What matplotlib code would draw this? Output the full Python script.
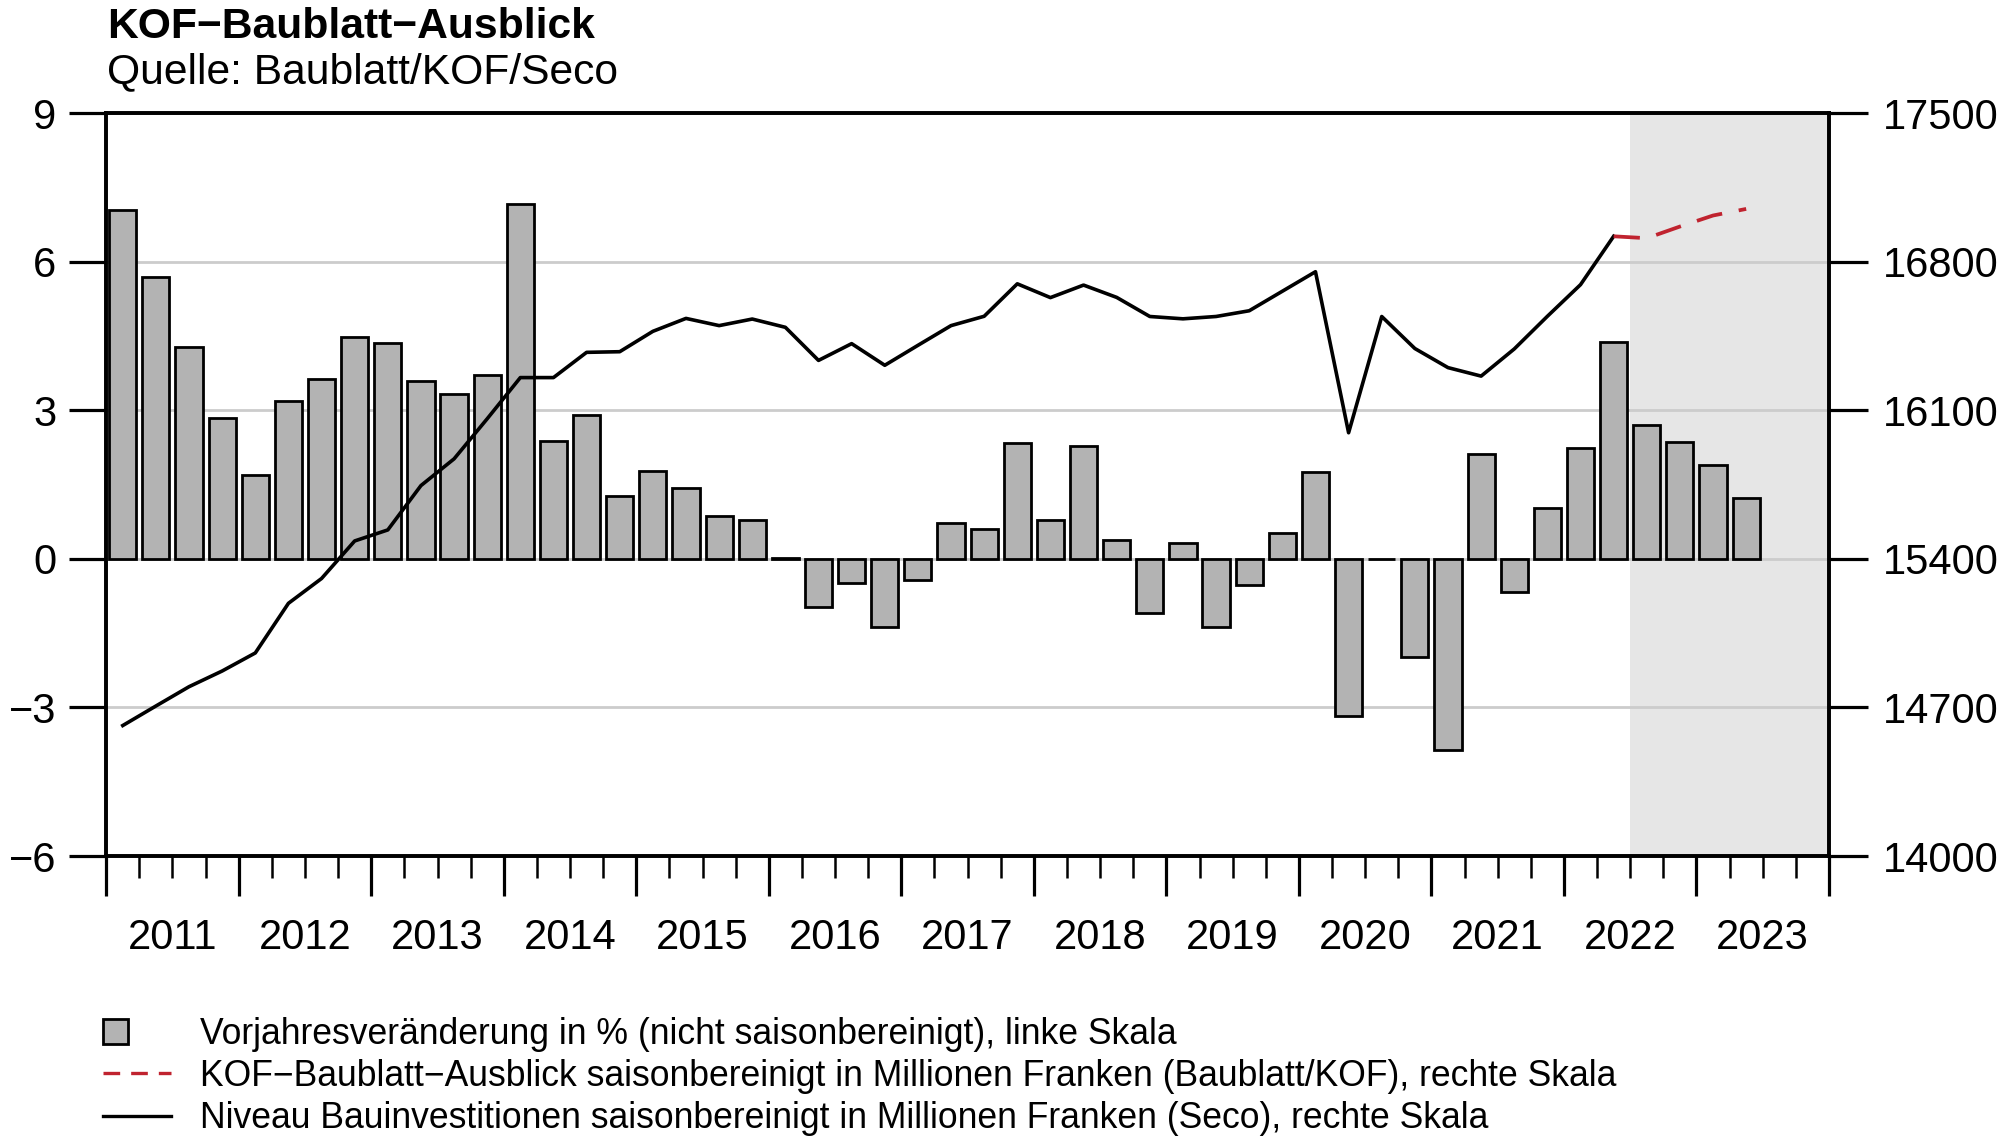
# KOF Baublatt Ausblick - bars (left scale) + investment level lines (right scale)
import numpy as np
import matplotlib.pyplot as plt
from matplotlib.patches import Rectangle
from matplotlib.lines import Line2D
from matplotlib.legend_handler import HandlerPatch

plt.rcParams['font.family'] = ['Liberation Sans', 'DejaVu Sans']

# data, quarterly 2011Q1 - 2023Q2
years = list(range(2011, 2024))
vorjahr = [7.05, 5.69, 4.29, 2.85,
           1.70, 3.19, 3.63, 4.48,
           4.37, 3.59, 3.34, 3.71,
           7.18, 2.39, 2.91, 1.27,
           1.77, 1.44, 0.86, 0.78,
           0.03, -0.96, -0.48, -1.38,
           -0.43, 0.73, 0.60, 2.35,
           0.79, 2.28, 0.39, -1.09,
           0.33, -1.37, -0.53, 0.52,
           1.75, -3.18, 0.0, -1.99,
           -3.85, 2.12, -0.66, 1.04,
           2.25, 4.38, 2.70, 2.37,
           1.89, 1.23]
# Seco level, 2011Q1 - 2022Q2
niveau = [14615, 14707, 14798, 14872, 14957, 15191, 15308, 15485,
          15537, 15746, 15872, 16061, 16255, 16255, 16374, 16377,
          16473, 16534, 16500, 16531, 16492, 16336, 16415, 16313,
          16407, 16500, 16544, 16697, 16632, 16691, 16633, 16543,
          16532, 16543, 16570, 16662, 16754, 15995, 16543, 16392,
          16302, 16262, 16390, 16544, 16693, 16921]
# KOF outlook, 2022Q2 - 2023Q2
ausblick = [16921, 16912, 16967, 17019, 17050]
prognose_start = 46  # shaded from 2022Q3

x = np.arange(len(vorjahr)) + 0.5

fig = plt.figure(figsize=(20, 11.38), dpi=100)
ax = fig.add_axes([0.0531, 0.2478, 0.8614, 0.6525])
ax2 = ax.twinx()

# shaded forecast area + grid
ax.axvspan(prognose_start, 4 * len(years), color='#E6E6E6', lw=0, zorder=0)
ax.set_axisbelow(True)
ax.yaxis.grid(True, color='#CCCCCC', lw=2)

ax.bar(x, vorjahr, width=0.82, color='#B3B3B3', edgecolor='black', lw=2.0, zorder=2)

ax2.plot(x[:len(niveau)], niveau, color='black', lw=2.6)
ax2.plot(x[len(niveau) - 1:len(niveau) - 1 + len(ausblick)], ausblick,
         color='#C0232F', lw=2.7, dashes=(7, 4.5))

# axes
ax.set_xlim(0, 4 * len(years))
ax.set_ylim(-6, 9)
ax.set_yticks([-6, -3, 0, 3, 6, 9])
ax2.set_ylim(14000, 17500)
ax2.set_yticks([14000, 14700, 15400, 16100, 16800, 17500])

ax.set_xticks(np.arange(0, 4 * len(years) + 1, 4))
ax.set_xticklabels([])
minor = [i for i in range(4 * len(years)) if i % 4]
ax.set_xticks(minor, minor=True)
ax.set_xticklabels([str(years[i // 4]) if i % 4 == 2 else '' for i in minor], minor=True)

ax.tick_params(axis='x', which='major', length=29, width=2.3)
ax.tick_params(axis='x', which='minor', length=15.5, width=1.8, pad=29, labelsize=30)
ax.tick_params(axis='y', length=27, width=2.3, pad=9, labelsize=30)
ax2.tick_params(axis='y', length=28, width=2.3, pad=11, labelsize=30)

for a in (ax, ax2):
    for s in a.spines.values():
        s.set_linewidth(2.6)

# titles
fig.text(0.0535, 0.9666, 'KOF\u2212Baublatt\u2212Ausblick', fontsize=30.7,
         fontweight='bold', va='baseline')
fig.text(0.0535, 0.9270, 'Quelle: Baublatt/KOF/Seco', fontsize=30.7, va='baseline')

# legend
def square(legend, orig_handle, xdescent, ydescent, width, height, fontsize):
    return Rectangle((-xdescent, -ydescent), height, height)

h_bar = Rectangle((0, 0), 1, 1, facecolor='#B3B3B3', edgecolor='black', lw=2.0)
h_red = Line2D([], [], color='#C0232F', lw=2.4, dashes=(5, 3.3))
h_blk = Line2D([], [], color='black', lw=2.4)
fig.legend([h_bar, h_red, h_blk],
           ['Vorjahresveränderung in % (nicht saisonbereinigt), linke Skala',
            'KOF\u2212Baublatt\u2212Ausblick saisonbereinigt in Millionen Franken (Baublatt/KOF), rechte Skala',
            'Niveau Bauinvestitionen saisonbereinigt in Millionen Franken (Seco), rechte Skala'],
           handler_map={Rectangle: HandlerPatch(patch_func=square)},
           loc='upper left', bbox_to_anchor=(0.0515, 0.1065), frameon=False,
           fontsize=25.6, borderpad=0, borderaxespad=0, handlelength=1.9,
           handletextpad=0.84, labelspacing=0.2)

plt.savefig('out.png', dpi=100)
